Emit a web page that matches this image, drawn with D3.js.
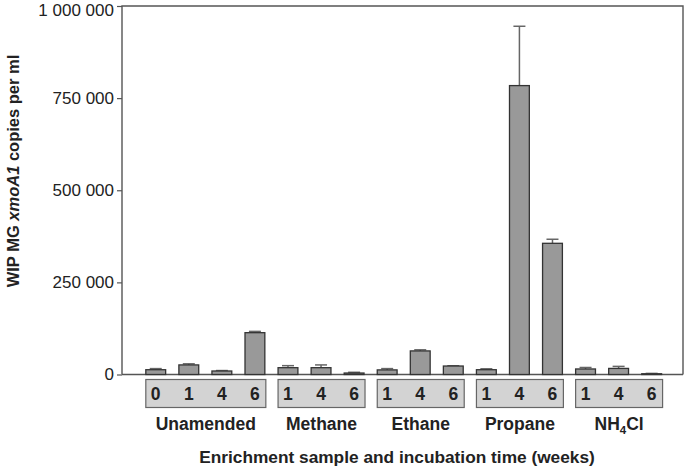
<!DOCTYPE html>
<html><head><meta charset="utf-8">
<script src="https://cdn.jsdelivr.net/npm/d3@7"></script>
<style>body{margin:0;background:#fff}svg{display:block;font-family:"Liberation Sans",Arial,sans-serif}</style>
</head><body>
<svg id="c" width="685" height="468"></svg>
<script>
const groups = ["Unamended","Methane","Ethane","Propane","NH4Cl"];
const weeks = [["0","1","4","6"],["1","4","6"],["1","4","6"],["1","4","6"],["1","4","6"]];
const values = [[13000,26000,9500,113500],[18500,18500,4000],[12500,64000,23000],[13000,784000,356000],[15000,16500,2000]];
const errors = [[3000,3000,1200,3500],[5500,7500,2000],[3500,3000,800],[2500,161000,11000],[4000,5500,1000]];
const yTicks = [0,250000,500000,750000,1000000];

const svg = d3.select("#c");
const L=122, R=683, T=6, B=374.5;
const keys=[]; const rows=[];
groups.forEach((g,gi)=>weeks[gi].forEach((w,wi)=>{const k=g+"|"+w;keys.push(k);rows.push({g,gi,w,k,v:values[gi][wi],e:errors[gi][wi]});}));
const x = d3.scaleBand().domain(keys).range([139.2,668.2]).paddingInner(0.4).paddingOuter(0.2);
const y = d3.scaleLinear().domain([0,1000000]).range([B,T]);
const loc = d3.formatLocale({decimal:".",thousands:" ",grouping:[3],currency:["",""]});
const fmt = loc.format(",d");

const ax = svg.append("g").attr("transform",`translate(${L},0)`)
  .call(d3.axisLeft(y).tickValues(yTicks).tickFormat(fmt).tickSize(5).tickPadding(3));
ax.select(".domain").remove();
ax.selectAll(".tick line").attr("stroke","#555").attr("stroke-width",1.2);
ax.selectAll(".tick text").attr("font-size",17).attr("fill","#222").attr("font-family","Liberation Sans, Arial, sans-serif");
ax.selectAll(".tick text").filter(d=>d===1000000).attr("y",4.2);
svg.append("path").attr("d",`M${L},${B}V${T}H${R}V${B}`).attr("fill","none").attr("stroke","#555").attr("stroke-width",1.4);
svg.append("line").attr("x1",L).attr("x2",R).attr("y1",B).attr("y2",B).attr("stroke","#555").attr("stroke-width",1.4);

const eg = svg.append("g").attr("stroke","#666").attr("stroke-width",1.5);
rows.forEach(r=>{
  const cx = x(r.k)+x.bandwidth()/2;
  eg.append("line").attr("x1",cx).attr("x2",cx).attr("y1",y(r.v)).attr("y2",y(r.v+r.e));
  eg.append("line").attr("x1",cx-6).attr("x2",cx+6).attr("y1",y(r.v+r.e)).attr("y2",y(r.v+r.e));
});
svg.append("g").selectAll("rect").data(rows).join("rect")
  .attr("x",d=>x(d.k)).attr("width",x.bandwidth())
  .attr("y",d=>y(d.v)).attr("height",d=>B-y(d.v))
  .attr("fill","#999").attr("stroke","#333").attr("stroke-width",1.3);

groups.forEach((g,gi)=>{
  const rs = rows.filter(r=>r.gi===gi);
  const x0 = x(rs[0].k), x1 = x(rs[rs.length-1].k)+x.bandwidth()+1;
  svg.append("rect").attr("x",x0).attr("y",379.5).attr("width",x1-x0).attr("height",28)
    .attr("fill","#d3d3d3").attr("stroke","#666").attr("stroke-width",1.2);
  rs.forEach(r=>{
    svg.append("text").attr("x",x(r.k)+x.bandwidth()/2).attr("y",399.5).attr("text-anchor","middle")
      .attr("font-size",17.5).attr("font-weight","bold").attr("fill","#222").text(r.w);
  });
  const t = svg.append("text").attr("x",(x0+x1)/2).attr("y",430).attr("text-anchor","middle")
    .attr("font-size",17.5).attr("font-weight","bold").attr("fill","#222");
  if(g==="NH4Cl"){ t.append("tspan").text("NH"); t.append("tspan").attr("font-size",11.5).attr("dy",4).text("4"); t.append("tspan").attr("dy",-4).text("Cl"); }
  else t.text(g);
});

svg.append("text").attr("x",397).attr("y",463).attr("text-anchor","middle").attr("font-size",17.3)
  .attr("font-weight","bold").attr("fill","#222").text("Enrichment sample and incubation time (weeks)");
const yt = svg.append("text").attr("transform","translate(19,171) rotate(-90)").attr("text-anchor","middle")
  .attr("font-size",16.5).attr("font-weight","bold").attr("fill","#222");
yt.append("tspan").text("WIP MG ");
yt.append("tspan").attr("font-style","italic").text("xmoA1");
yt.append("tspan").text(" copies per ml");
</script>
</body></html>
